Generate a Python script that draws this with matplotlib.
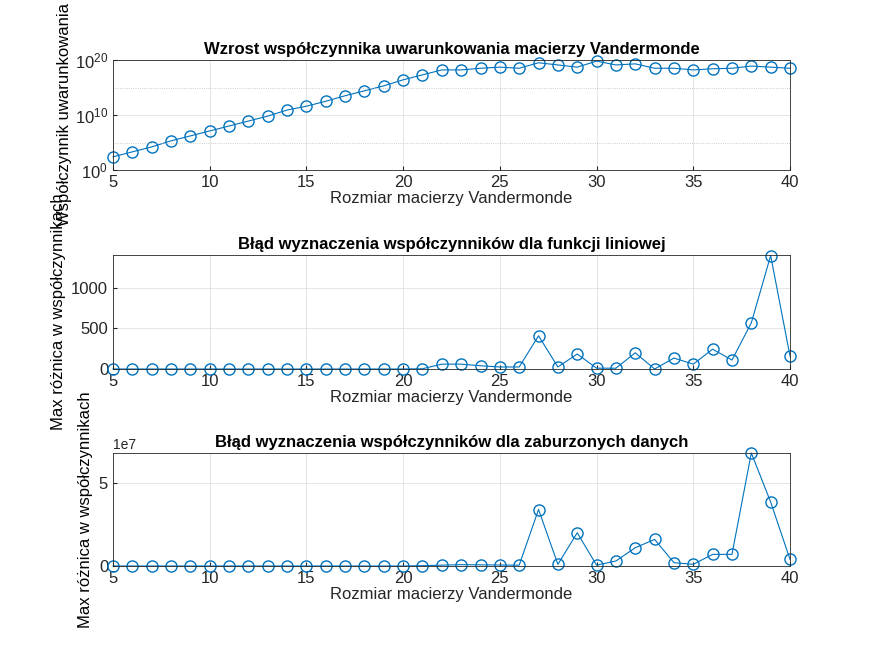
import matplotlib
matplotlib.use("Agg")
import matplotlib.pyplot as plt
import numpy as np

plt.rcParams['font.family'] = ['Liberation Sans', 'DejaVu Sans']

n = list(range(5, 41))
cond_exp = [2.4,3.3,4.2,5.3,6.2,7.1,8.0,8.9,9.8,10.9,11.6,12.5,13.5,14.4,15.3,16.4,17.3,18.2,18.2,18.5,18.7,18.5,19.5,19.1,18.7,19.8,19.1,19.3,18.5,18.5,18.2,18.4,18.5,18.9,18.7,18.5]
err_lin = [0,0,0,0,0,0,0,0,0,0,0,0,0,0,0,0,3,60,60,40,25,25,410,25,185,10,10,200,0,135,60,245,110,570,1400,160]
err_pert = [0,0,0,0,0,0,0,0,0,0,0,0,0,0,0,0,0.02,0.05,0.08,0.07,0.06,0.05,3.4,0.1,2.0,0.05,0.3,1.1,1.6,0.2,0.1,0.7,0.7,6.8,3.85,0.4]

col = '#0072BD'
fig = plt.figure(figsize=(8.75, 6.56), dpi=100)
W, H = 875, 656
def ax_at(t, b):
    return fig.add_axes([113/W, 1-b/H, (790-113)/W, (b-t)/H])

kw = dict(color=col, lw=0.8, marker='o', ms=8, mfc='none', mec=col, clip_on=False)
title_kw = dict(fontsize=12, fontweight='bold')

ax1 = ax_at(60, 170)
ax1.semilogy(n, 10**np.array(cond_exp), **kw)
ax1.set_ylim(1, 1e20)
ax1.set_yticks([1, 1e10, 1e20])
ax1.minorticks_off()
for v in [1e5, 1e15]:
    ax1.axhline(v, color='0.75', lw=0.6, ls=':')
ax1.set_title('Wzrost współczynnika uwarunkowania macierzy Vandermonde', pad=4, **title_kw)
ax1.set_ylabel('Współczynnik uwarunkowania', fontsize=12, labelpad=2)

ax2 = ax_at(255, 369)
ax2.plot(n, err_lin, **kw)
ax2.set_ylim(0, 1407)
ax2.set_yticks([0, 500, 1000])
ax2.set_title('Błąd wyznaczenia współczynników dla funkcji liniowej', pad=4, **title_kw)
ax2.set_ylabel('Max różnica w współczynnikach', fontsize=12)

ax3 = ax_at(453, 566)
ax3.plot(n, np.array(err_pert)*1e7, **kw)
ax3.set_ylim(0, 6.8e7)
ax3.set_yticks([0, 5e7])
ax3.set_title('Błąd wyznaczenia współczynników dla zaburzonych danych', pad=4, **title_kw)
ax3.set_ylabel('Max różnica w współczynnikach', fontsize=12)

for ax in (ax1, ax2, ax3):
    ax.set_xlim(5, 40)
    ax.set_xticks(range(5, 41, 5))
    ax.grid(True, color='0.88', lw=0.6)
    ax.set_xlabel('Rozmiar macierzy Vandermonde', fontsize=12, color='0.15', labelpad=1)
    ax.tick_params(labelsize=12, direction='in', length=3, colors='0.15')
    for s in ax.spines.values():
        s.set_color('0.15'); s.set_linewidth(0.6)

fig.savefig('out.png', dpi=100)
